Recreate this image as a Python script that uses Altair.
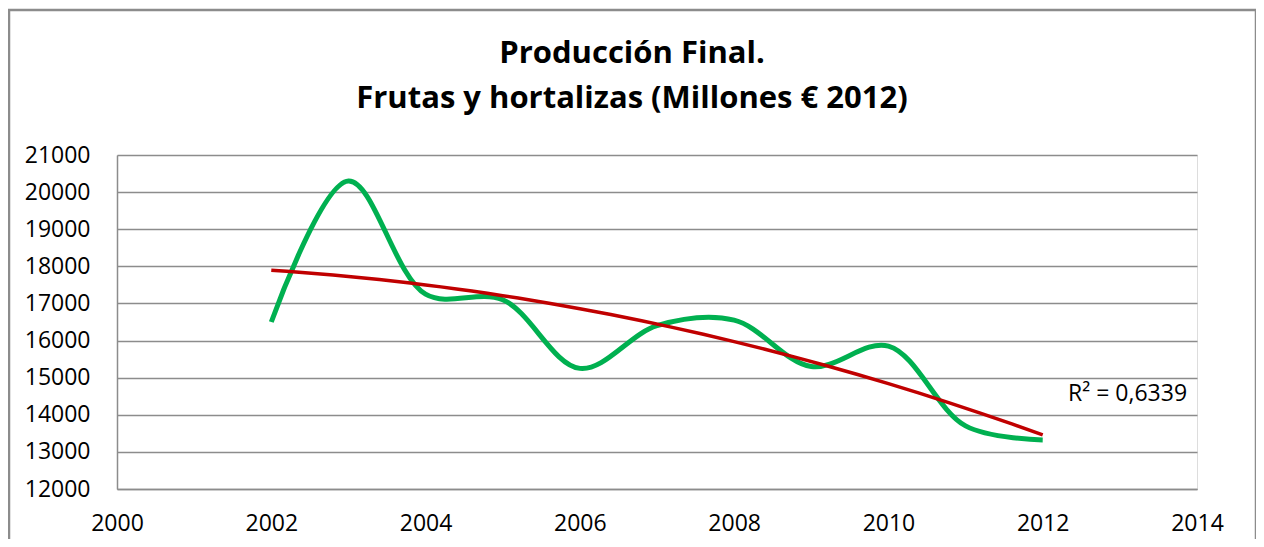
import altair as alt
import pandas as pd

years = [2002, 2003, 2004, 2005, 2006, 2007, 2008, 2009, 2010, 2011, 2012]
values = [16500, 20300, 17250, 17100, 15250, 16400, 16550, 15300, 15850, 13700, 13320]
title_lines = ["Producción Final.", "Frutas y hortalizas (Millones € 2012)"]
r2_label = ["R² = 0,6339"]
r2_pos_x = [2013.1]
r2_pos_y = [14550]
x_ticks = [2000, 2002, 2004, 2006, 2008, 2010, 2012, 2014]
y_ticks = [12000, 13000, 14000, 15000, 16000, 17000, 18000, 19000, 20000, 21000]

df = pd.DataFrame({"year": years, "value": values})
lab = pd.DataFrame({"x": r2_pos_x, "y": r2_pos_y, "t": r2_label})

FONT = "Open Sans"
GRID = "#8c8c8c"
LBL = 23

xs = alt.Scale(domain=[2000, 2014], nice=False, zero=False)
ys = alt.Scale(domain=[12000, 21000], nice=False, zero=False)

xaxis = alt.Axis(values=x_ticks, format="d", grid=False, ticks=False,
                 domainColor=GRID, domainWidth=1.5, labelFont=FONT, labelFontSize=LBL,
                 labelColor="#000000", labelPadding=23, labelOverlap=False, labelFlush=False,
                 title=None)
yaxis = alt.Axis(values=y_ticks, format="d", grid=True, gridColor=GRID,
                 gridWidth=1.5, ticks=False, domainColor=GRID, domainWidth=1.5, labelFont=FONT,
                 labelFontSize=LBL, labelColor="#000000", labelPadding=27, labelOverlap=False,
                 labelFlush=False, tickCount=10, title=None)

frame = alt.Chart(pd.DataFrame({"a": [0]})).mark_rect(
    fill=None, stroke="#8c8c8c", strokeWidth=2.5
).encode(x=alt.value(-108), x2=alt.value(1139), y=alt.value(-145), y2=alt.value(420))

title1 = alt.Chart(pd.DataFrame({"t": [title_lines[0]]})).mark_text(
    font=FONT, fontSize=31, fontWeight="bold", color="#000000", align="center", baseline="middle"
).encode(x=alt.value(515), y=alt.value(-101), text="t:N")
title2 = alt.Chart(pd.DataFrame({"t": [title_lines[1]]})).mark_text(
    font=FONT, fontSize=31, fontWeight="bold", color="#000000", align="center", baseline="middle"
).encode(x=alt.value(515), y=alt.value(-56), text="t:N")

green = alt.Chart(df).mark_line(color="#00B050", strokeWidth=5, interpolate="catmull-rom").encode(
    x=alt.X("year:Q", scale=xs, axis=xaxis),
    y=alt.Y("value:Q", scale=ys, axis=yaxis),
)

trend = alt.Chart(df).transform_regression(
    "year", "value", method="poly", order=2, extent=[2002, 2012]
).mark_line(color="#C00000", strokeWidth=3.5).encode(
    x=alt.X("year:Q", scale=xs, axis=xaxis),
    y=alt.Y("value:Q", scale=ys, axis=yaxis),
)

txt = alt.Chart(lab).mark_text(font=FONT, fontSize=LBL, color="#000000", align="center").encode(
    x=alt.X("x:Q", scale=xs, axis=xaxis), y=alt.Y("y:Q", scale=ys, axis=yaxis), text="t:N"
)

chart = alt.layer(frame, title1, title2, green, trend, txt).properties(
    width=1080, height=334,
    autosize=alt.AutoSizeParams(type="none"),
    padding={"left": 109, "top": 147, "right": 59, "bottom": 50},
).configure_view(stroke=None).configure(background="#ffffff")

chart.save("out.html", embed_options={"renderer": "svg", "actions": False})
